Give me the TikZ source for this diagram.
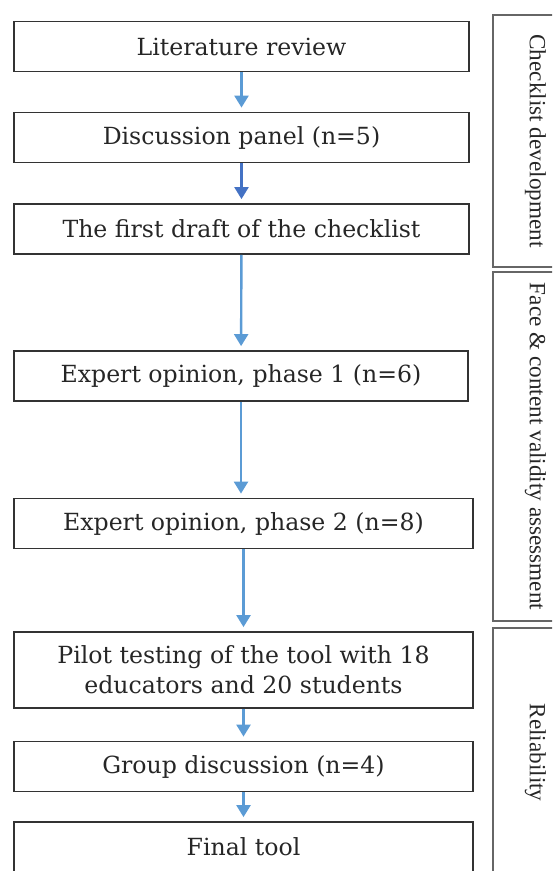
\documentclass[tikz,border=0pt]{standalone}
\usepackage{fontspec}
\setmainfont{DejaVu Serif}
\newfontfamily\sidefont{Liberation Serif}
\usetikzlibrary{arrows.meta,calc}
\definecolor{arrowblue}{RGB}{91,155,213}
\definecolor{darkblue}{RGB}{68,114,196}
\tikzset{
    stepbox/.style={draw=black!80, line width=0.9pt, inner sep=0pt, align=center, text=black!85,
      minimum width=227.5pt, minimum height=25pt, font=\fontsize{11.8}{15}\selectfont},
    sidebox/.style={draw=black!60, line width=1pt, inner sep=0pt, rotate=-90, text=black!85,
      minimum height=42.5pt, font=\sidefont\fontsize{11.6}{14}\selectfont},
    flow/.style={arrowblue, line width=1.2pt, -{Triangle[width=7pt,length=6pt]}, shorten >=2pt},
  }
\begin{document}
\begin{tikzpicture}[x=0.5pt,y=-0.5pt]
				  %cadre de la page 552x871
				  \useasboundingbox (0,0) rectangle (552,871);
				  \clip (0,0) rectangle (552,871);
				  
				  \node[stepbox] (lit) at (241.5,46.5) {Literature review};
				  \node[stepbox] (disc) at (241.5,137.5) {Discussion panel (n=5)};
				  \node[stepbox] (draft) at (241.5,229) {The first draft of the checklist};
				  \node[stepbox, minimum width=227pt] (exp1) at (241,376) {Expert opinion, phase 1 (n=6)};
				  \node[stepbox, minimum width=229.5pt] (exp2) at (243.5,523.5) {Expert opinion, phase 2 (n=8)};
				  \node[stepbox, minimum width=229.5pt, minimum height=38pt] (pilot) at (243.5,670) {Pilot testing of the tool with 18\\ educators and 20 students};
				  \node[stepbox, minimum width=229.5pt] (group) at (243.5,766.5) {Group discussion (n=4)};
				  \node[stepbox, minimum width=229.5pt] (final) at (243.5,847) {Final tool};
				  
				  %phases a droite
				  \node[sidebox, minimum width=126pt] (dev) at (535.5,141) {Checklist development};
				  \node[sidebox, minimum width=174.5pt] (face) at (535.5,446.5) {Face \& content validity assessment};
				  \node[sidebox, minimum width=124.5pt] (rel) at (535.5,752.5) {Reliability};
				  
				  %fleches verticales
				  \draw[flow] (lit) -- (disc);
				  \draw[flow, darkblue] (disc) -- (draft);
				  \draw[flow] (draft) -- (exp1);
				  \draw[flow] (exp1.south) -- (exp1.south |- exp2.north);
				  \draw[flow] (exp2) -- (pilot);
				  \draw[flow] (pilot) -- (group);
				  \draw[flow] (group) -- (final);
				  \end{tikzpicture}
\end{document}
